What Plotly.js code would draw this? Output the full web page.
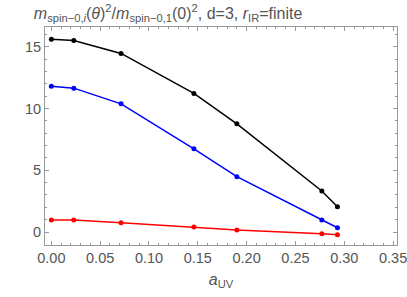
<!DOCTYPE html>
<html><head><meta charset="utf-8">
<script src="https://cdn.plot.ly/plotly-3.0.1.min.js"></script>
<style>html,body{margin:0;padding:0;background:#fff;}#chart{width:407px;height:297px;}</style>
</head><body><div id="chart"></div>
<script>
const aUV = [0.0, 0.023, 0.0714, 0.146, 0.190, 0.277, 0.293];
const seriesBlack = [15.6, 15.5, 14.46, 11.22, 8.76, 3.32, 2.05];
const seriesBlue = [11.8, 11.65, 10.38, 6.74, 4.48, 0.97, 0.35];
const seriesRed = [0.97, 0.97, 0.75, 0.40, 0.16, -0.14, -0.22];
const xTicks = [0, 0.05, 0.10, 0.15, 0.20, 0.25, 0.30, 0.35];
const xTickText = ["0.00","0.05","0.10","0.15","0.20","0.25","0.30","0.35"];
const yTicks = [0, 5, 10, 15];

function tr(y, color) {
  return {x: aUV, y: y, mode: 'lines+markers', type: 'scatter',
    line: {color: color, width: 1.5}, marker: {color: color, size: 5}, showlegend: false};
}
const data = [tr(seriesBlack, '#000000'), tr(seriesBlue, '#0000ff'), tr(seriesRed, '#ff0000')];
const fam = 'Liberation Sans, Arial, sans-serif';
const axisCommon = {
  showgrid: false, zeroline: false, showline: true, linecolor: '#999', linewidth: 1,
  mirror: 'ticks', ticks: 'inside', ticklen: 4, tickcolor: '#999',
  ticklabeloverflow: 'allow',
  tickfont: {family: fam, size: 14.5, color: '#555'}
};
const layout = {
  width: 407, height: 297,
  margin: {l: 45, r: 10, t: 27, b: 52},
  paper_bgcolor: '#fff', plot_bgcolor: '#fff',
  title: {text: '<i>m</i><sub>spin−0,<i>i</i></sub>(<i>θ</i>)<sup>2</sup>/<i>m</i><sub>spin−0,1</sub>(0)<sup>2</sup>, d=3, <i>r</i><sub>IR</sub>=finite',
    font: {family: fam, size: 16, color: '#555'}, x: 0.413, xanchor: 'center', y: 0.955, yanchor: 'middle'},
  xaxis: Object.assign({}, axisCommon, {
    range: [-0.0065, 0.354], tickvals: xTicks, ticktext: xTickText,
    minor: {ticks: 'inside', ticklen: 2, dtick: 0.01, tick0: 0, tickcolor: '#999'},
    title: {text: '<i>a</i><sub>UV</sub>', font: {family: fam, size: 16, color: '#555'}, standoff: 8}
  }),
  yaxis: Object.assign({}, axisCommon, {
    range: [-1.05, 16.6], tickvals: yTicks,
    minor: {ticks: 'inside', ticklen: 2, dtick: 1, tick0: 0, tickcolor: '#999'}
  })
};
Plotly.newPlot('chart', data, layout, {displayModeBar: false, staticPlot: true});
</script></body></html>
